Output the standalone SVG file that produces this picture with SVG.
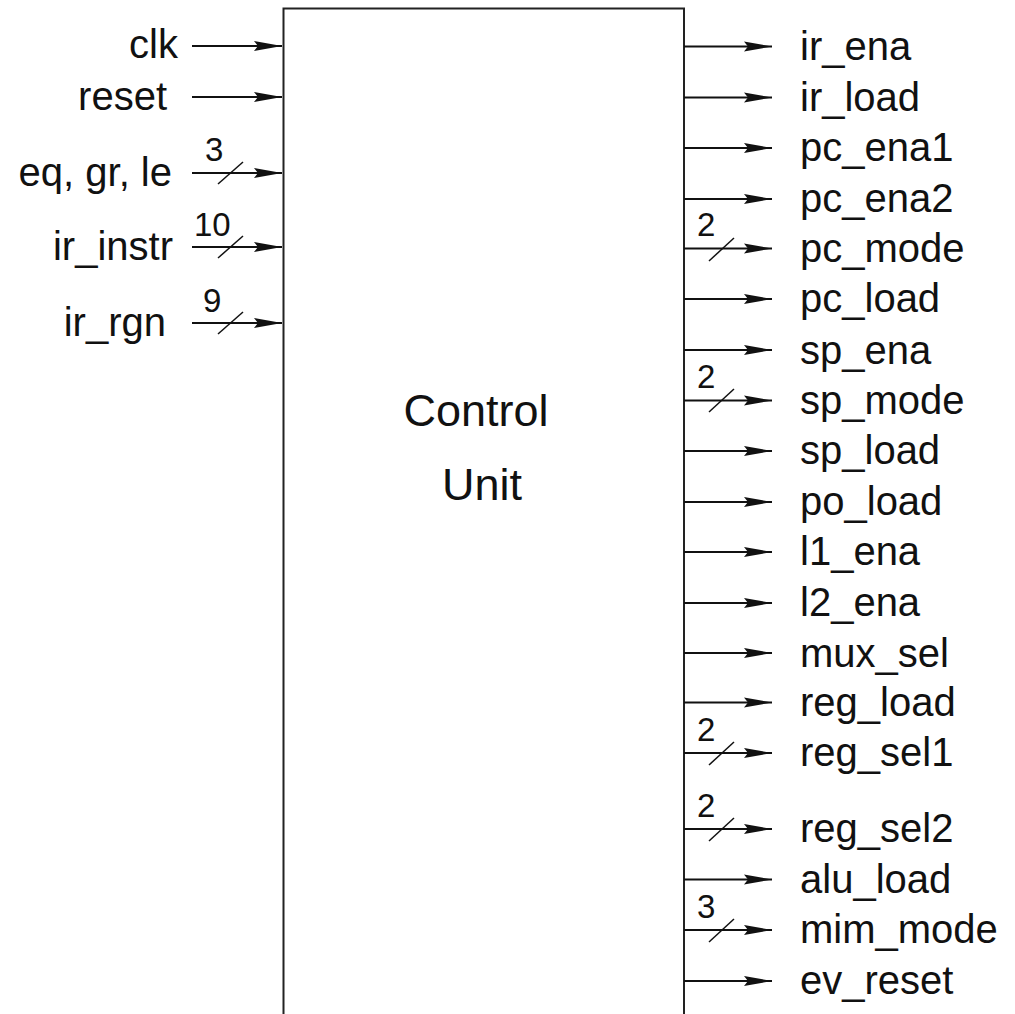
<svg xmlns="http://www.w3.org/2000/svg" width="1015" height="1014" viewBox="0 0 1015 1014">
<style>
.lbl{font-family:"Liberation Sans",Arial,sans-serif;font-size:40px;fill:#111}
.num{font-family:"Liberation Sans",Arial,sans-serif;font-size:33px;fill:#111}
.title{font-family:"Liberation Sans",Arial,sans-serif;font-size:45px;fill:#111;text-anchor:middle}
.w{stroke:#111;stroke-width:1.8;fill:none}
.bus{stroke:#111;stroke-width:1.5;fill:none}
</style>
<defs>
<marker id="ah" markerUnits="userSpaceOnUse" markerWidth="30" markerHeight="12" refX="28" refY="6" orient="auto" viewBox="0 0 30 12">
<path d="M0,1 L28,6 L0,11 L4,6 Z" fill="#111"/>
</marker>
</defs>
<rect width="1015" height="1014" fill="#fff"/>
<g id="control-unit">
<rect x="283.5" y="8.5" width="400.5" height="1030" fill="none" stroke="#222" stroke-width="2"/>
<text class="title" x="476" y="426">Control</text>
<text class="title" x="482" y="500">Unit</text>
</g>
<g id="inputs" class="lbl" text-anchor="end">
<text x="178" y="58">clk</text>
<text x="167" y="110">reset</text>
<text x="172" y="186">eq, gr, le</text>
<text x="173" y="260">ir_instr</text>
<text x="166" y="336">ir_rgn</text>
</g>
<g id="outputs" class="lbl">
<text x="800" y="60">ir_ena</text>
<text x="800" y="111">ir_load</text>
<text x="800" y="161">pc_ena1</text>
<text x="800" y="212">pc_ena2</text>
<text x="800" y="262">pc_mode</text>
<text x="800" y="312">pc_load</text>
<text x="800" y="364">sp_ena</text>
<text x="800" y="414">sp_mode</text>
<text x="800" y="464">sp_load</text>
<text x="800" y="515">po_load</text>
<text x="800" y="565">l1_ena</text>
<text x="800" y="616">l2_ena</text>
<text x="800" y="667">mux_sel</text>
<text x="800" y="716">reg_load</text>
<text x="800" y="766">reg_sel1</text>
<text x="800" y="842">reg_sel2</text>
<text x="800" y="893">alu_load</text>
<text x="800" y="943">mim_mode</text>
<text x="800" y="994">ev_reset</text>
</g>
<g id="bus-widths" class="num">
<text x="205" y="161">3</text>
<text x="194" y="236">10</text>
<text x="203" y="312">9</text>
<text x="697" y="236">2</text>
<text x="697" y="388">2</text>
<text x="697" y="741">2</text>
<text x="697" y="817">2</text>
<text x="697" y="918">3</text>
</g>
<g id="connectors">
<g class="w" marker-end="url(#ah)">
<line x1="192" y1="46" x2="282" y2="46"/>
<line x1="192" y1="97" x2="282" y2="97"/>
<line x1="192" y1="173" x2="282" y2="173"/>
<line x1="192" y1="247" x2="282" y2="247"/>
<line x1="192" y1="323" x2="282" y2="323"/>
<line x1="684" y1="46.5" x2="772" y2="46.5"/>
<line x1="684" y1="97.5" x2="772" y2="97.5"/>
<line x1="684" y1="148" x2="772" y2="148"/>
<line x1="684" y1="199" x2="772" y2="199"/>
<line x1="684" y1="248.5" x2="772" y2="248.5"/>
<line x1="684" y1="299" x2="772" y2="299"/>
<line x1="684" y1="350" x2="772" y2="350"/>
<line x1="684" y1="400.5" x2="772" y2="400.5"/>
<line x1="684" y1="451" x2="772" y2="451"/>
<line x1="684" y1="502" x2="772" y2="502"/>
<line x1="684" y1="552" x2="772" y2="552"/>
<line x1="684" y1="603" x2="772" y2="603"/>
<line x1="684" y1="653" x2="772" y2="653"/>
<line x1="684" y1="702.5" x2="772" y2="702.5"/>
<line x1="684" y1="753" x2="772" y2="753"/>
<line x1="684" y1="829" x2="772" y2="829"/>
<line x1="684" y1="879.5" x2="772" y2="879.5"/>
<line x1="684" y1="930" x2="772" y2="930"/>
<line x1="684" y1="981" x2="772" y2="981"/>
</g>
<g class="bus">
<line x1="218" y1="184" x2="243" y2="162"/>
<line x1="218" y1="258" x2="243" y2="236"/>
<line x1="218" y1="334" x2="243" y2="312"/>
<line x1="709" y1="261" x2="734" y2="238"/>
<line x1="709" y1="412" x2="734" y2="389"/>
<line x1="709" y1="765" x2="734" y2="742"/>
<line x1="709" y1="841" x2="734" y2="818"/>
<line x1="709" y1="942" x2="734" y2="919"/>
</g>
</g>
</svg>
